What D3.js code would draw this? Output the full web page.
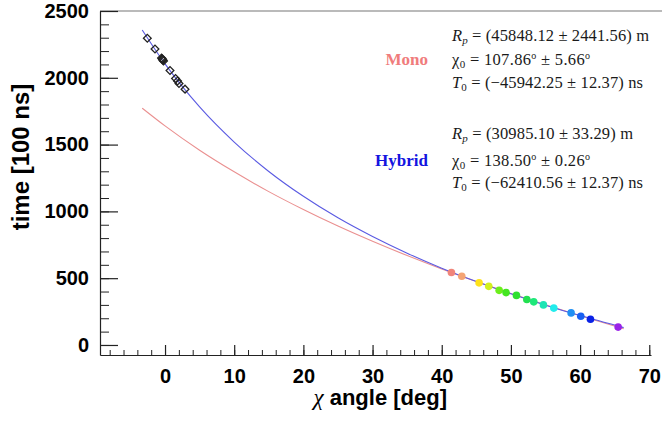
<!DOCTYPE html>
<html>
<head>
<meta charset="utf-8">
<script src="https://cdn.jsdelivr.net/npm/d3@7"></script>
<style>
  html, body { margin: 0; padding: 0; background: #fff; }
  svg { display: block; }
</style>
</head>
<body>
<svg id="chart" width="662" height="422"></svg>
<script>
// ---------------- data ----------------
const xTickValues = [0, 10, 20, 30, 40, 50, 60, 70];
const yTickValues = [0, 500, 1000, 1500, 2000, 2500];

// Hybrid fit curve (chi angle [deg], time [100 ns])
const hybridAngle = [-3.3, 0, 5, 10, 15, 20, 25, 30, 35, 40, 45, 50, 55, 60, 66.3];
const hybridTime  = [2358, 2104, 1782, 1519, 1299, 1113, 952, 812, 687, 575, 475, 383, 298, 220, 130];

// Mono fit curve
const monoAngle = [-3.3, 0, 5, 10, 15, 20, 25, 30, 35, 40, 45, 50, 55, 60, 66.3];
const monoTime  = [1773, 1640, 1458, 1296, 1148, 1014, 890, 776, 669, 569, 475, 386, 301, 219, 121];

// open square points
const squareAngle = [-2.56, -1.45, -0.5, -0.42, -0.36, -0.29, -0.22, 0.72, 1.52, 1.81, 2.02, 2.89];
const squareTime  = [2296, 2216, 2148, 2142, 2137, 2131, 2126, 2055, 1995, 1976, 1957, 1915];

// coloured points
const dotAngle = [41.4, 42.9, 45.4, 46.8, 48.3, 49.3, 50.8, 52.3, 53.3, 54.7, 56.2, 58.7, 60.1, 61.5, 65.5];
const dotTime  = [543, 514, 465, 439, 409, 392, 371, 341, 323, 300, 276, 240, 215, 193, 134];
const dotColor = ["#f0857a", "#f4a474", "#ffe21a", "#d2f01e", "#6cee1c", "#44e620", "#2ee030",
                  "#22e050", "#1ee87a", "#1ee4b4", "#22ecec", "#2090f4", "#1860f2", "#0a22e6", "#9a22e8"];

const monoLines = [
  ["R", "p", " = (45848.12 ± 2441.56) m"],
  ["χ", "0", " = 107.86", "o", " ± 5.66", "o"],
  ["T", "0", " = (−45942.25 ± 12.37) ns"]
];
const hybridLines = [
  ["R", "p", " = (30985.10 ± 33.29) m"],
  ["χ", "0", " = 138.50", "o", " ± 0.26", "o"],
  ["T", "0", " = (−62410.56 ± 12.37) ns"]
];

// ---------------- drawing ----------------
const svg = d3.select("#chart");
const x = d3.scaleLinear().domain([-9.4, 70.25]).range([100, 651]);
const y = d3.scaleLinear().domain([-75, 2500]).range([355, 11]);

// top frame line
svg.append("line").attr("x1", 100).attr("x2", 662).attr("y1", 11).attr("y2", 11)
  .attr("stroke", "#777").attr("stroke-width", 1.2);

// minor ticks
const xMinor = d3.range(-8, 71, 2);
const yMinor = d3.range(0, 2501, 100);
svg.append("g").attr("transform", "translate(0,355)")
  .call(d3.axisBottom(x).tickValues(xMinor).tickSizeInner(-5).tickSizeOuter(0).tickFormat(""))
  .call(g => g.select(".domain").remove())
  .selectAll("line").attr("stroke", "#222");
svg.append("g").attr("transform", "translate(100,0)")
  .call(d3.axisLeft(y).tickValues(yMinor).tickSizeInner(-9).tickSizeOuter(0).tickFormat(""))
  .call(g => g.select(".domain").remove())
  .selectAll("line").attr("stroke", "#222");

// major axes
const xAxis = svg.append("g").attr("transform", "translate(0,355)")
  .call(d3.axisBottom(x).tickValues(xTickValues).tickFormat(d3.format("d"))
    .tickSizeInner(-10).tickSizeOuter(0).tickPadding(14));
const yAxis = svg.append("g").attr("transform", "translate(100,0)")
  .call(d3.axisLeft(y).tickValues(yTickValues).tickFormat(d3.format("d"))
    .tickSizeInner(-18).tickSizeOuter(0).tickPadding(11));
[xAxis, yAxis].forEach(g => {
  g.select(".domain").attr("stroke", "#222").attr("stroke-width", 1.2);
  g.selectAll(".tick line").attr("stroke", "#222").attr("stroke-width", 1.2);
  g.selectAll(".tick text").attr("fill", "#000")
    .style("font-family", "'Liberation Sans', Arial, sans-serif")
    .style("font-weight", "bold").style("font-size", "20px");
});

// curves
const line = d3.line().x(d => x(d[0])).y(d => y(d[1])).curve(d3.curveMonotoneX);
svg.append("path").datum(monoAngle.map((a, i) => [a, monoTime[i]]))
  .attr("d", line).attr("fill", "none").attr("stroke", "#ea9090").attr("stroke-width", 1.1);
svg.append("path").datum(hybridAngle.map((a, i) => [a, hybridTime[i]]))
  .attr("d", line).attr("fill", "none").attr("stroke", "#5a5ae2").attr("stroke-width", 1.1);

// open squares (drawn as diamonds)
const sq = d3.symbol().type(d3.symbolSquare).size(30);
svg.append("g").selectAll("path").data(squareAngle.map((a, i) => [a, squareTime[i]]))
  .join("path")
  .attr("d", sq)
  .attr("transform", d => `translate(${x(d[0])},${y(d[1])}) rotate(45)`)
  .attr("fill", "none").attr("stroke", "#222").attr("stroke-width", 1.3);

// coloured dots
svg.append("g").selectAll("circle").data(dotAngle.map((a, i) => [a, dotTime[i], dotColor[i]]))
  .join("circle")
  .attr("cx", d => x(d[0])).attr("cy", d => y(d[1])).attr("r", 3.8)
  .attr("fill", d => d[2]);

// axis titles
const xt = svg.append("text").attr("x", 447).attr("y", 405).attr("text-anchor", "end")
  .style("font-family", "'Liberation Sans', Arial, sans-serif").style("font-size", "22px")
  .style("font-weight", "bold").attr("fill", "#000");
xt.append("tspan").text("χ").style("font-family", "'Liberation Serif', serif")
  .style("font-weight", "normal").style("font-style", "italic").style("font-size", "23px");
xt.append("tspan").text(" angle [deg]");

svg.append("text").attr("transform", "translate(29,157) rotate(-90)").attr("text-anchor", "middle")
  .style("font-family", "'Liberation Sans', Arial, sans-serif").style("font-size", "24px")
  .style("font-weight", "bold").attr("fill", "#000").text("time [100 ns]");

// labels Mono / Hybrid
svg.append("text").attr("x", 428).attr("y", 65).attr("text-anchor", "end")
  .style("font-family", "'Liberation Serif', serif").style("font-weight", "bold")
  .style("font-size", "17px").attr("fill", "#f07c7c").text("Mono");
svg.append("text").attr("x", 428).attr("y", 166).attr("text-anchor", "end")
  .style("font-family", "'Liberation Serif', serif").style("font-weight", "bold")
  .style("font-size", "17px").attr("fill", "#1414e0").text("Hybrid");

function mathLine(parts, bx, by, width) {
  const t = svg.append("text").attr("x", bx).attr("y", by)
    .style("font-family", "'Liberation Serif', 'Times New Roman', serif").style("font-size", "16.5px")
    .attr("fill", "#1a1a1a");
  t.append("tspan").text(parts[0]).style("font-style", parts[0] === "χ" ? "normal" : "italic");
  t.append("tspan").text(parts[1]).attr("dy", 3).style("font-size", "11px")
    .style("font-style", parts[1] === "p" ? "italic" : "normal");
  t.append("tspan").text(parts[2]).attr("dy", -3);
  if (parts.length > 3) {
    t.append("tspan").text(parts[3]).attr("dy", -6).style("font-size", "10px");
    t.append("tspan").text(parts[4]).attr("dy", 6);
    t.append("tspan").text(parts[5]).attr("dy", -6).style("font-size", "10px");
  }
  t.attr("textLength", width).attr("lengthAdjust", "spacing");
  return t;
}
const baseM = [41, 65, 88];
const baseH = [139, 166, 188];
const widthsM = [197, 138, 191];
const widthsH = [181, 138, 191];
monoLines.forEach((p, i) => mathLine(p, 452, baseM[i], widthsM[i]));
hybridLines.forEach((p, i) => mathLine(p, 452, baseH[i], widthsH[i]));
</script>
</body>
</html>
